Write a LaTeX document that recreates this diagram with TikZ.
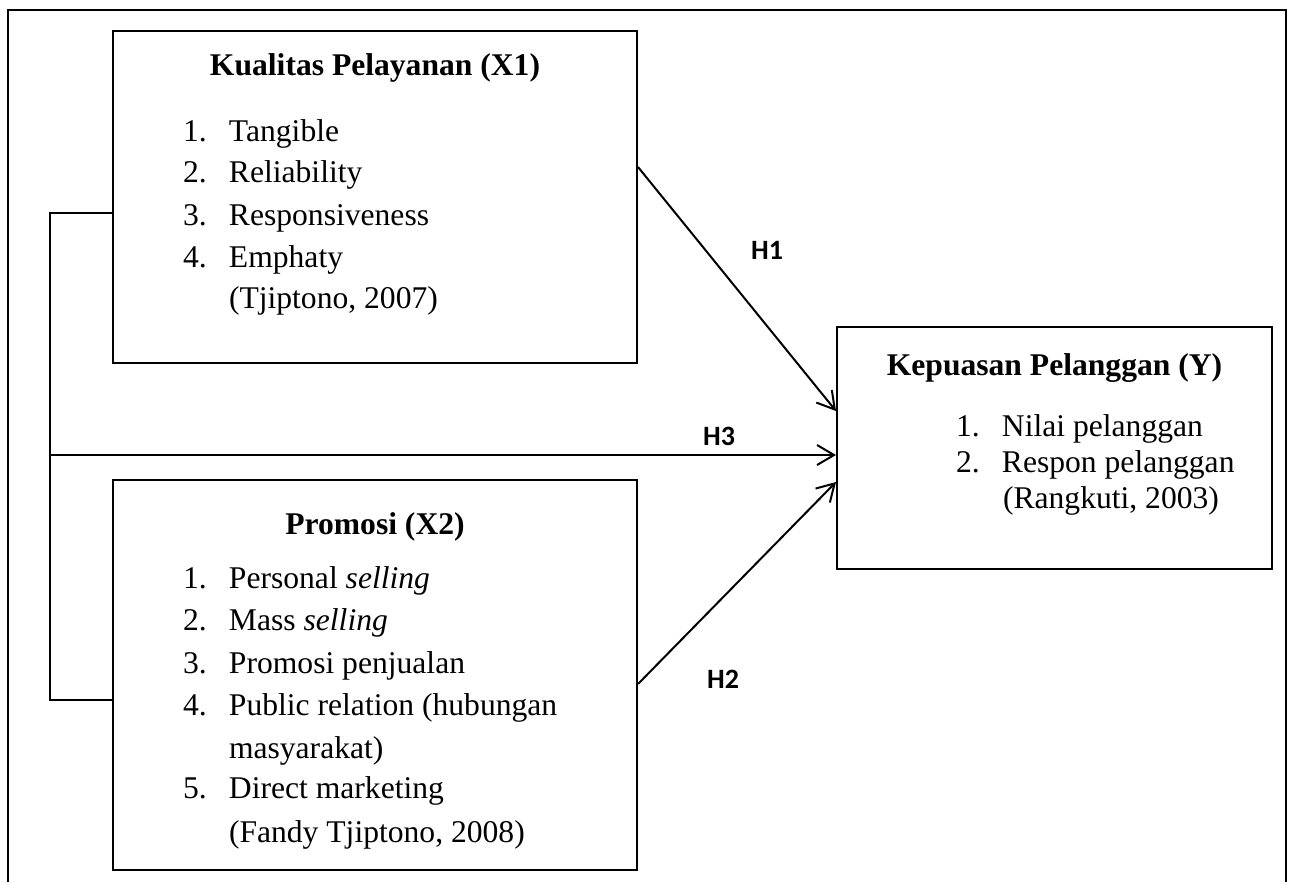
\documentclass[tikz,border=0pt]{standalone}
\usepackage{fontspec}
\setmainfont{Liberation Serif}
\newfontfamily\hfont{Carlito}
\usetikzlibrary{arrows.meta}

\tikzset{
	box/.style={draw, line width=1pt, inner sep=0pt},
	head/.style={font=\fontsize{15.8pt}{19pt}\selectfont\bfseries, anchor=base, inner sep=0pt},
	item/.style={font=\fontsize{15.8pt}{19pt}\selectfont, anchor=base west, inner sep=0pt},
	hyp/.style={font=\hfont\bfseries\fontsize{14pt}{16pt}\selectfont, inner sep=0pt},
	arr/.style={line width=1pt, -{Straight Barb[length=8.5pt,width=10pt]}},
}
\newcommand{\nr}[1]{\makebox[23pt][l]{#1}}

\begin{document}
\begin{tikzpicture}[x=0.5pt, y=-0.5pt, line width=1pt]
	\useasboundingbox (0,0) rectangle (1293,882);
	% rahmen
	\draw (8,882) -- (8,10) -- (1286,10) -- (1286,882);
	% kotak
	\node[box, minimum width=262pt, minimum height=166pt] (x1) at (375,197) {};
	\node[box, minimum width=262pt, minimum height=195pt] (x2) at (375,675) {};
	\node[box, minimum width=217.5pt, minimum height=121pt] (ky) at (1054.5,448) {};
	% kualitas pelayanan
	\node[head] (x1t) at (375,76) {Kualitas Pelayanan (X1)};
	\node[item] (x1a) at (182,142) {\nr{1.}Tangible};
	\node[item] (x1b) at (182,183) {\nr{2.}Reliability};
	\node[item] (x1c) at (182,225) {\nr{3.}Responsiveness};
	\node[item] (x1d) at (182,267) {\nr{4.}Emphaty};
	\node[item] (x1e) at (228,308) {(Tjiptono, 2007)};
	% promosi
	\node[head] (x2t) at (375,534) {Promosi (X2)};
	\node[item] (x2a) at (182,588) {\nr{1.}Personal \textit{selling}};
	\node[item] (x2b) at (182,630) {\nr{2.}Mass \textit{selling}};
	\node[item] (x2c) at (182,673) {\nr{3.}Promosi penjualan};
	\node[item] (x2d) at (182,715) {\nr{4.}Public relation (hubungan};
	\node[item] (x2e) at (228,758) {masyarakat)};
	\node[item] (x2f) at (182,798) {\nr{5.}Direct marketing};
	\node[item] (x2g) at (228,842) {(Fandy Tjiptono, 2008)};
	% kepuasan pelanggan
	\node[head] (kyt) at (1054.5,375) {Kepuasan Pelanggan (Y)};
	\node[item] (kya) at (955,436) {\nr{1.}Nilai pelanggan};
	\node[item] (kyb) at (955,472) {\nr{2.}Respon pelanggan};
	\node[item] (kyc) at (1002,508) {(Rangkuti, 2003)};
	% garis kiri
	\coordinate (sa) at (50,213);
	\coordinate (sb) at (50,700);
	\coordinate (sm) at (50,455);
	\draw (x1.west |- sa) -- (sa) -- (sb) -- (x2.west |- sb);
	% panah
	\draw[arr] (sm) -- (sm -| ky.west);
	\draw[arr] ([yshift=-68.5pt]x1.north east) -- ([yshift=-42.5pt]ky.north west);
	\draw[arr] ([yshift=-102.5pt]x2.north east) -- ([yshift=-78pt]ky.north west);
	% hipotesis
	\node[hyp] (h1) at (767,250) {H1};
	\node[hyp] (h3) at (719,436) {H3};
	\node[hyp] (h2) at (723,679) {H2};
\end{tikzpicture}
\end{document}
